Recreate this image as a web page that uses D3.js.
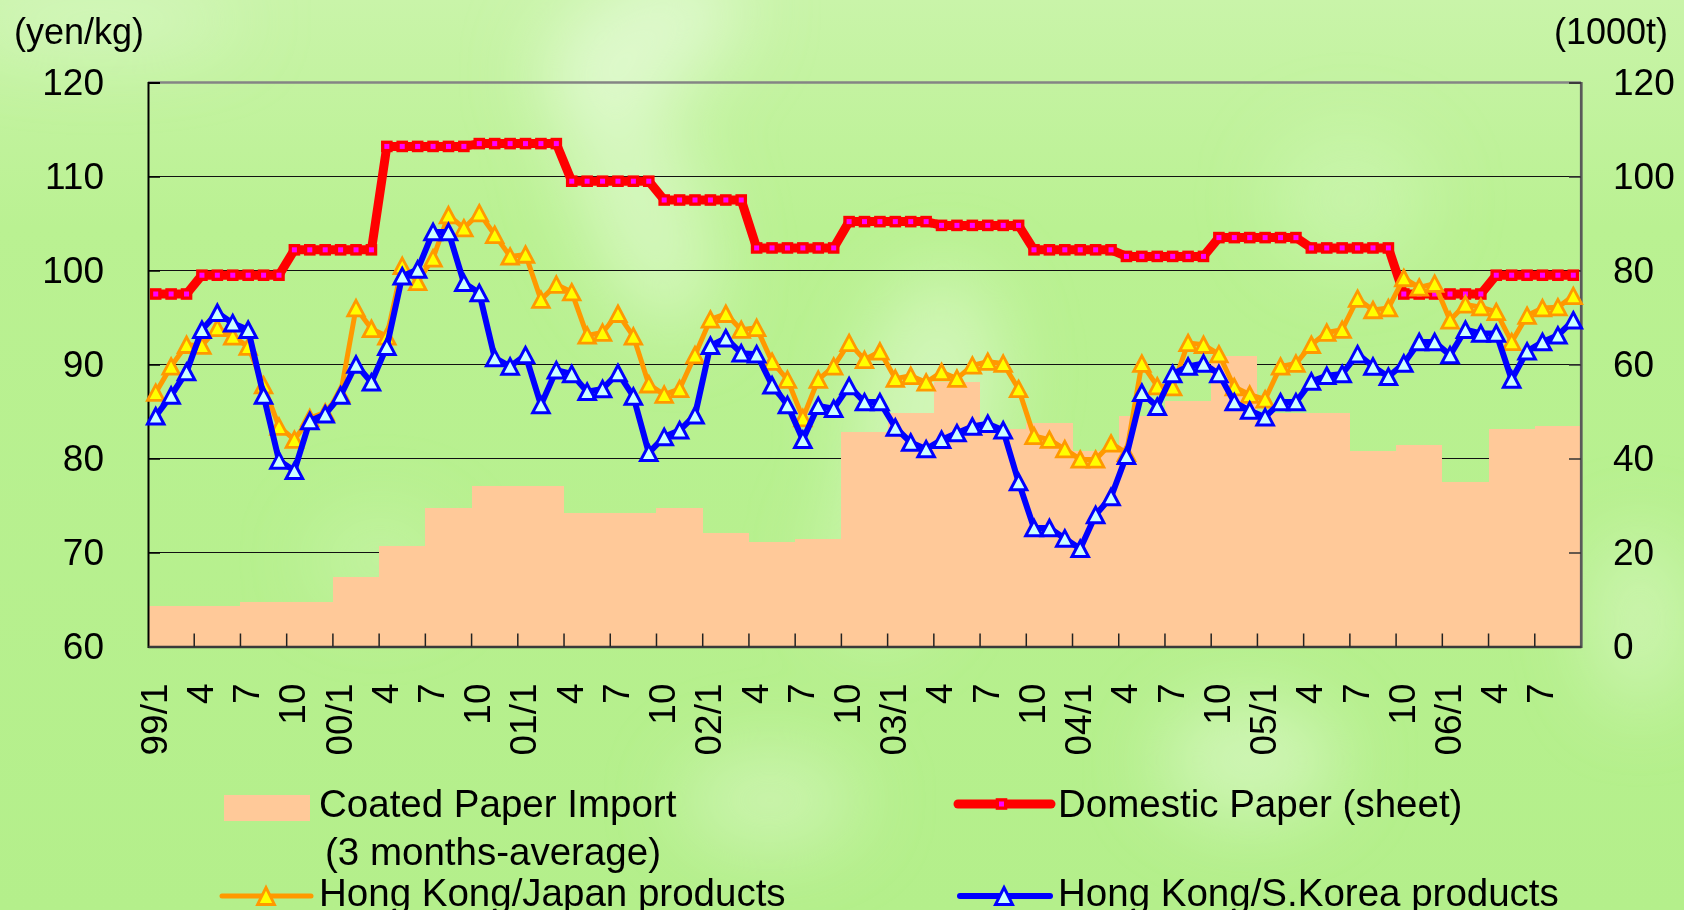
<!DOCTYPE html>
<html>
<head>
<meta charset="utf-8">
<script src="https://cdn.jsdelivr.net/npm/d3@7"></script>
<style>
  html, body { margin: 0; padding: 0; background: #b7f08f; }
  svg { display: block; }
  text { font-family: "Liberation Sans", Arial, sans-serif; fill: #000; }
</style>
</head>
<body>
<svg id="chart" width="1684" height="910"></svg>
<script>
// ---- categories: monthly, Jan 1999 to Sep 2006 ----
const months = [];
for (let yr = 1999; yr <= 2006; yr++) {
  for (let m = 1; m <= 12; m++) {
    if (yr === 2006 && m > 9) break;
    months.push(String(yr % 100).padStart(2, "0") + "/" + m);
  }
}

// label shown every third month
const tickLabels = [
  "99/1","4","7","10","00/1","4","7","10","01/1","4","7","10",
  "02/1","4","7","10","03/1","4","7","10","04/1","4","7","10",
  "05/1","4","7","10","06/1","4","7"
];

// quarters of the import columns (3-month averages)
const quarters = [
  "99Q1","99Q2","99Q3","99Q4","00Q1","00Q2","00Q3","00Q4",
  "01Q1","01Q2","01Q3","01Q4","02Q1","02Q2","02Q3","02Q4",
  "03Q1","03Q2","03Q3","03Q4","04Q1","04Q2","04Q3","04Q4",
  "05Q1","05Q2","05Q3","05Q4","06Q1","06Q2","06Q3"
];

// Coated paper import, 1000t (right axis)
const coatedImport = [
  8.6, 8.6, 9.5, 9.5, 14.8, 21.4, 29.5, 34.1,
  34.1, 28.3, 28.3, 29.5, 24.1, 22.3, 22.8, 45.7,
  49.6, 56.3, 46.2, 47.5, 41.5, 49.0, 52.3, 61.8,
  49.6, 49.6, 41.6, 42.9, 34.9, 46.3, 46.9
];

// Domestic paper (sheet), yen/kg
const domesticPaper = [
  97.5, 97.5, 97.5,
  99.5, 99.5, 99.5, 99.5, 99.5, 99.5,
  102.2, 102.2, 102.2, 102.2, 102.2, 102.2,
  113.2, 113.2, 113.2, 113.2, 113.2, 113.2,
  113.5, 113.5, 113.5, 113.5, 113.5, 113.5,
  109.5, 109.5, 109.5, 109.5, 109.5, 109.5,
  107.5, 107.5, 107.5, 107.5, 107.5, 107.5,
  102.4, 102.4, 102.4, 102.4, 102.4, 102.4,
  105.2, 105.2, 105.2, 105.2, 105.2, 105.2,
  104.8, 104.8, 104.8, 104.8, 104.8, 104.8,
  102.2, 102.2, 102.2, 102.2, 102.2, 102.2,
  101.5, 101.5, 101.5, 101.5, 101.5, 101.5,
  103.5, 103.5, 103.5, 103.5, 103.5, 103.5,
  102.4, 102.4, 102.4, 102.4, 102.4, 102.4,
  97.5, 97.5, 97.5, 97.5, 97.5, 97.5,
  99.5, 99.5, 99.5, 99.5, 99.5, 99.5
];

// Hong Kong / Japan products, yen/kg
const hkJapan = [
  87.0, 89.8, 92.1, 92.0, 93.9, 93.0, 91.9, 87.8, 83.4, 82.0,
  84.3, 84.9, 86.9, 96.0, 93.8, 93.0, 100.5, 98.8, 101.3, 105.9,
  104.5, 106.1, 103.8, 101.5, 101.7, 96.9, 98.5, 97.7, 93.1, 93.4,
  95.4, 93.0, 87.9, 86.8, 87.4, 91.0, 94.8, 95.4, 93.7, 93.9,
  90.3, 88.4, 84.3, 88.4, 89.8, 92.3, 90.5, 91.4, 88.5, 88.8,
  88.1, 89.2, 88.5, 89.9, 90.3, 90.1, 87.4, 82.4, 82.0, 81.0,
  79.9, 79.9, 81.6, 80.6, 90.1, 87.7, 87.6, 92.3, 92.1, 91.1,
  87.6, 86.8, 86.3, 89.8, 90.1, 92.1, 93.4, 93.7, 97.0, 95.8,
  96.0, 99.2, 98.2, 98.6, 94.7, 96.4, 96.1, 95.6, 92.4, 95.2,
  96.0, 96.1, 97.3
];

// Hong Kong / S.Korea products, yen/kg
const hkKorea = [
  84.5, 86.7, 89.2, 93.7, 95.5, 94.4, 93.7, 86.7, 79.8, 78.7,
  84.0, 84.7, 86.7, 90.0, 88.1, 91.9, 99.4, 100.1, 104.1, 104.1,
  98.7, 97.6, 90.7, 89.8, 91.0, 85.7, 89.4, 89.0, 87.1, 87.4,
  89.1, 86.6, 80.6, 82.3, 83.0, 84.6, 92.0, 92.8, 91.2, 91.1,
  87.8, 85.7, 82.0, 85.6, 85.3, 87.7, 86.0, 86.0, 83.3, 81.7,
  81.0, 82.0, 82.7, 83.4, 83.7, 83.0, 77.5, 72.6, 72.6, 71.5,
  70.4, 74.0, 75.9, 80.3, 87.0, 85.5, 89.0, 89.8, 90.1, 89.0,
  86.0, 85.1, 84.4, 86.0, 86.0, 88.2, 88.8, 89.0, 91.1, 89.8,
  88.7, 90.1, 92.4, 92.4, 91.0, 93.7, 93.3, 93.3, 88.4, 91.4,
  92.4, 93.1, 94.7
];

const leftTicks = [60, 70, 80, 90, 100, 110, 120];
const rightTicks = [0, 20, 40, 60, 80, 100, 120];

// ---- layout ----
const W = 1684, H = 910;
const plot = { left: 148, right: 1581, top: 82.5, bottom: 646.5 };

const svg = d3.select("#chart");

// ---- textured green backdrop ----
const defs = svg.append("defs");
defs.append("filter").attr("id", "soft")
  .attr("x", "-50%").attr("y", "-50%").attr("width", "200%").attr("height", "200%")
  .append("feGaussianBlur").attr("stdDeviation", 38);
const bgGrad = defs.append("linearGradient").attr("id", "bgGrad")
  .attr("x1", 0).attr("y1", 0).attr("x2", 0).attr("y2", 1);
bgGrad.append("stop").attr("offset", "0%").attr("stop-color", "#c9f4a9");
bgGrad.append("stop").attr("offset", "25%").attr("stop-color", "#baf192");
bgGrad.append("stop").attr("offset", "100%").attr("stop-color", "#b4ef8b");

svg.append("rect").attr("width", W).attr("height", H).attr("fill", "url(#bgGrad)");
const glow = svg.append("g").attr("filter", "url(#soft)").attr("fill", "#e6fbd9");
[
  [640, 40, 110, 60, 0.75, -30],
  [640, 200, 60, 140, 0.6, -20],
  [930, 400, 70, 130, 0.55, 10],
  [880, 560, 60, 80, 0.35, 0],
  [1250, 760, 90, 60, 0.55, 0],
  [100, 20, 140, 30, 0.5, 0],
  [770, 800, 90, 50, 0.45, 0],
  [1640, 620, 50, 90, 0.45, 0],
  [1350, 200, 80, 70, 0.3, 0],
  [380, 560, 70, 50, 0.25, 0]
].forEach(([cx, cy, rx, ry, op, rot]) => {
  glow.append("ellipse")
    .attr("cx", cx).attr("cy", cy).attr("rx", rx).attr("ry", ry)
    .attr("opacity", op)
    .attr("transform", `rotate(${rot},${cx},${cy})`);
});

// ---- scales ----
const x = d3.scaleBand().domain(months).range([plot.left, plot.right]).padding(0);
const xc = (i) => x(months[i]) + x.bandwidth() / 2;
const yL = d3.scaleLinear().domain([60, 120]).range([plot.bottom, plot.top]);
const yR = d3.scaleLinear().domain([0, 120]).range([plot.bottom, plot.top]);

// ---- gridlines ----
svg.append("g").selectAll("line")
  .data(leftTicks.filter(v => v > 60 && v < 120))
  .join("line")
  .attr("x1", plot.left).attr("x2", plot.right)
  .attr("y1", d => yL(d)).attr("y2", d => yL(d))
  .attr("stroke", "#111").attr("stroke-width", 1.2);

// ---- import columns (one per quarter, spanning its three months) ----
svg.append("g").selectAll("rect")
  .data(coatedImport)
  .join("rect")
  .attr("x", (d, q) => x(months[q * 3]))
  .attr("width", (d, q) => {
    const last = Math.min(q * 3 + 2, months.length - 1);
    return x(months[last]) + x.bandwidth() - x(months[q * 3]);
  })
  .attr("y", d => yR(d))
  .attr("height", d => plot.bottom - yR(d))
  .attr("fill", "#ffc999")
  .attr("shape-rendering", "crispEdges");

// ---- plot frame ----
svg.append("line").attr("x1", plot.left).attr("x2", plot.right)
  .attr("y1", plot.top).attr("y2", plot.top)
  .attr("stroke", "#858585").attr("stroke-width", 2.5);
svg.append("line").attr("x1", plot.right).attr("x2", plot.right)
  .attr("y1", plot.top).attr("y2", plot.bottom)
  .attr("stroke", "#5a5a5a").attr("stroke-width", 2.2);

// ---- left axis ----
const axL = svg.append("g").attr("transform", `translate(${plot.left},0)`)
  .call(d3.axisLeft(yL).tickValues(leftTicks).tickSize(-12).tickPadding(44).tickFormat(d3.format("d")));
axL.select(".domain").attr("stroke", "#000").attr("stroke-width", 2);
axL.selectAll(".tick line").attr("stroke", "#000").attr("stroke-width", 1.5);
axL.selectAll("text").attr("font-size", 37).attr("font-family", "Liberation Sans, Arial, sans-serif");

// ---- right axis ----
const axR = svg.append("g").attr("transform", `translate(${plot.right},0)`)
  .call(d3.axisRight(yR).tickValues(rightTicks).tickSize(-12).tickPadding(32).tickFormat(d3.format("d")));
axR.select(".domain").attr("stroke", "#5a5a5a").attr("stroke-width", 2.2);
axR.selectAll(".tick line").attr("stroke", "#333").attr("stroke-width", 1.5);
axR.selectAll("text").attr("font-size", 37).attr("font-family", "Liberation Sans, Arial, sans-serif");

// ---- bottom axis: ticks at quarter boundaries, labels under each quarter start ----
const labelMonths = tickLabels.map((t, k) => months[k * 3]);
const axB = svg.append("g").attr("transform", `translate(0,${plot.bottom})`)
  .call(d3.axisBottom(x).tickValues(labelMonths).tickSize(0).tickPadding(0)
    .tickFormat((d, k) => tickLabels[k]));
axB.select(".domain").attr("stroke", "#3a3a3a").attr("stroke-width", 2.5);
axB.selectAll(".tick text")
  .attr("font-size", 37)
  .attr("font-family", "Liberation Sans, Arial, sans-serif")
  .attr("text-anchor", "end")
  .attr("transform", "translate(-2,37) rotate(-90)")
  .attr("x", 0).attr("y", 0).attr("dy", "0.35em");

svg.append("g").selectAll("line")
  .data(d3.range(3, months.length, 3))
  .join("line")
  .attr("x1", i => x(months[i])).attr("x2", i => x(months[i]))
  .attr("y1", plot.bottom).attr("y2", plot.bottom - 13)
  .attr("stroke", "#222").attr("stroke-width", 1.5);

// ---- series ----
const tri = (w, h) => `M0,${-h / 2}L${w / 2},${h / 2}L${-w / 2},${h / 2}Z`;

function drawLine(values, color, width) {
  svg.append("path")
    .datum(values)
    .attr("d", d3.line().x((d, i) => xc(i)).y(d => yL(d)))
    .attr("fill", "none")
    .attr("stroke", color)
    .attr("stroke-width", width)
    .attr("stroke-linejoin", "round")
    .attr("stroke-linecap", "round");
}

// domestic paper: red line, square markers with magenta centre
drawLine(domesticPaper, "#ff0000", 9);
const sq = svg.append("g").selectAll("g").data(domesticPaper).join("g")
  .attr("transform", (d, i) => `translate(${xc(i)},${yL(d)})`);
sq.append("rect").attr("x", -5.8).attr("y", -5.8).attr("width", 11.6).attr("height", 11.6).attr("fill", "#ff0000");
sq.append("rect").attr("x", -2.5).attr("y", -2.5).attr("width", 5).attr("height", 5).attr("fill", "#ff00ff");

// Hong Kong / Japan: orange line, yellow triangles
drawLine(hkJapan, "#ff9900", 5);
svg.append("g").selectAll("path").data(hkJapan).join("path")
  .attr("d", tri(16.5, 15.5))
  .attr("transform", (d, i) => `translate(${xc(i)},${yL(d)})`)
  .attr("fill", "#ffff00").attr("stroke", "#ff9900").attr("stroke-width", 2.8)
  .attr("stroke-linejoin", "miter");

// Hong Kong / S.Korea: blue line, pale cyan triangles
drawLine(hkKorea, "#0000ff", 6);
svg.append("g").selectAll("path").data(hkKorea).join("path")
  .attr("d", tri(16.5, 15.5))
  .attr("transform", (d, i) => `translate(${xc(i)},${yL(d)})`)
  .attr("fill", "#ccffff").attr("stroke", "#0000ff").attr("stroke-width", 3)
  .attr("stroke-linejoin", "miter");

// ---- unit captions ----
svg.append("text").attr("x", 14).attr("y", 44).attr("font-size", 36).text("(yen/kg)");
svg.append("text").attr("x", 1668).attr("y", 44).attr("font-size", 36)
  .attr("text-anchor", "end").text("(1000t)");

// ---- legend ----
const lg = svg.append("g").attr("font-size", 38.5);
lg.append("rect").attr("x", 224).attr("y", 795).attr("width", 86).attr("height", 26).attr("fill", "#ffc999");
lg.append("text").attr("x", 319).attr("y", 817).text("Coated Paper Import");
lg.append("text").attr("x", 325).attr("y", 865).text("(3 months-average)");

lg.append("line").attr("x1", 958).attr("x2", 1051).attr("y1", 804).attr("y2", 804)
  .attr("stroke", "#ff0000").attr("stroke-width", 9).attr("stroke-linecap", "round");
lg.append("rect").attr("x", 995.7).attr("y", 798.2).attr("width", 11.6).attr("height", 11.6).attr("fill", "#ff0000");
lg.append("rect").attr("x", 999).attr("y", 801.5).attr("width", 5).attr("height", 5).attr("fill", "#ff00ff");
lg.append("text").attr("x", 1058).attr("y", 817).text("Domestic Paper (sheet)");

lg.append("line").attr("x1", 222).attr("x2", 311).attr("y1", 896).attr("y2", 896)
  .attr("stroke", "#ff9900").attr("stroke-width", 5).attr("stroke-linecap", "round");
lg.append("path").attr("d", tri(17, 17)).attr("transform", "translate(266,896)")
  .attr("fill", "#ffff00").attr("stroke", "#ff9900").attr("stroke-width", 2.8);
lg.append("text").attr("x", 319).attr("y", 906).text("Hong Kong/Japan products");

lg.append("line").attr("x1", 960).attr("x2", 1050).attr("y1", 896).attr("y2", 896)
  .attr("stroke", "#0000ff").attr("stroke-width", 6).attr("stroke-linecap", "round");
lg.append("path").attr("d", tri(17, 17)).attr("transform", "translate(1004,896)")
  .attr("fill", "#ccffff").attr("stroke", "#0000ff").attr("stroke-width", 3);
lg.append("text").attr("x", 1058).attr("y", 906).text("Hong Kong/S.Korea products");
</script>
</body>
</html>
